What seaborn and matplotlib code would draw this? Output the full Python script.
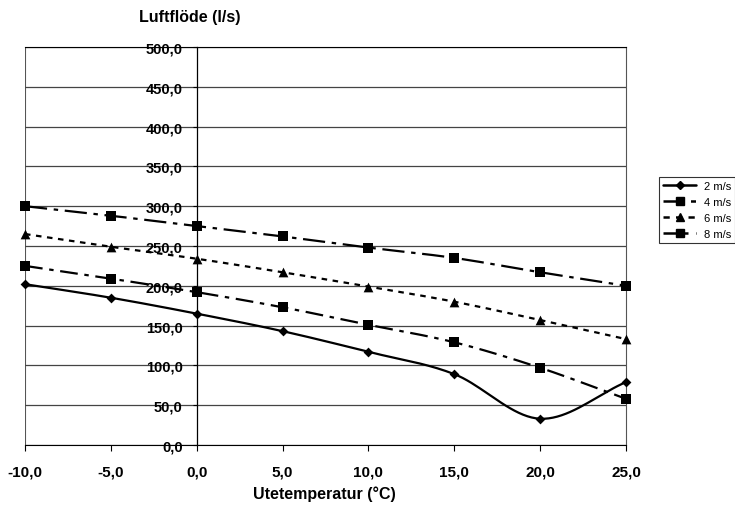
import numpy as np
import pandas as pd
import matplotlib
matplotlib.use("Agg")
import matplotlib.pyplot as plt
from matplotlib.lines import Line2D
from matplotlib.ticker import FuncFormatter
import seaborn as sns

# data
temps = [-10, -5, 0, 5, 10, 15, 20, 25]
flow_2 = [202, 185, 165, 143, 117, 89, 33, 79]
flow_4 = [225, 209, 192, 173, 151, 129, 97, 58]
flow_6 = [265, 249, 234, 217, 199, 180, 157, 133]
flow_8 = [300, 288, 275, 262, 248, 235, 217, 200]
series_names = ["2 m/s", "4 m/s", "6 m/s", "8 m/s"]
y_ticks = list(range(0, 501, 50))
x_ticks = list(range(-10, 26, 5))

styles = {
    "2 m/s": dict(marker="D", ms=5, dashes=(None, None)),
    "4 m/s": dict(marker="s", ms=7, dashes=(8, 3, 2, 3)),
    "6 m/s": dict(marker="^", ms=7, dashes=(2.5, 2.5)),
    "8 m/s": dict(marker="s", ms=7, dashes=(10, 3, 2, 3)),
}


def smooth(x, y, n=20):
    # Catmull-Rom spline similar to Excel's "smoothed line"
    x = np.asarray(x, float)
    y = np.asarray(y, float)
    px = np.concatenate([[2 * x[0] - x[1]], x, [2 * x[-1] - x[-2]]])
    py = np.concatenate([[2 * y[0] - y[1]], y, [2 * y[-1] - y[-2]]])
    xs, ys = [], []
    for i in range(1, len(px) - 2):
        t = np.linspace(0, 1, n, endpoint=False)
        for arr, out in ((px, xs), (py, ys)):
            p0, p1, p2, p3 = arr[i - 1], arr[i], arr[i + 1], arr[i + 2]
            out.extend(0.5 * (2 * p1 + (-p0 + p2) * t
                              + (2 * p0 - 5 * p1 + 4 * p2 - p3) * t ** 2
                              + (-p0 + 3 * p1 - 3 * p2 + p3) * t ** 3))
    xs.append(x[-1])
    ys.append(y[-1])
    return xs, ys


sns.set_style("white")
plt.rcParams["font.family"] = ["Liberation Sans", "DejaVu Sans"]
plt.rcParams["font.weight"] = "bold"
plt.rcParams["text.color"] = "black"
plt.rcParams["xtick.color"] = "black"
plt.rcParams["ytick.color"] = "black"
plt.rcParams["xtick.labelsize"] = 11
plt.rcParams["ytick.labelsize"] = 10.5

fig = plt.figure(figsize=(7.35, 5.06), dpi=100)
ax = fig.add_axes([0.034, 0.1186, 0.8177, 0.7866])

rows = []
for name, vals in zip(series_names, [flow_2, flow_4, flow_6, flow_8]):
    rows += [dict(temp=t, flow=v, serie=name) for t, v in zip(temps, vals)]
df = pd.DataFrame(rows)

handles = []
for name in series_names:
    d = df[df.serie == name]
    sx, sy = smooth(d.temp, d.flow)
    st = styles[name]
    line = ax.plot(sx, sy, color="black", lw=1.6)[0]
    if st["dashes"][0] is not None:
        line.set_dashes(st["dashes"])
    sns.scatterplot(x=d.temp, y=d.flow, marker=st["marker"], s=st["ms"] ** 2,
                    color="black", edgecolor="black", linewidth=0, ax=ax,
                    zorder=5, clip_on=False)
    h = Line2D([0], [0], color="black", lw=1.8, marker=st["marker"],
               markersize=st["ms"] - 1)
    if st["dashes"][0] is not None:
        h.set_dashes(st["dashes"])
    handles.append(h)

ax.spines["left"].set_position(("data", 0))
ax.spines["left"].set_color("black")
ax.spines["left"].set_linewidth(0.9)
ax.spines["right"].set_color("#555555")
ax.spines["top"].set_color("black")
ax.spines["bottom"].set_color("black")
ax.axvline(-10, color="#555555", lw=1.5, zorder=0)

ax.set_xlim(-10, 25)
ax.set_ylim(0, 500)
ax.set_xticks(x_ticks)
ax.set_yticks(y_ticks)
comma = FuncFormatter(lambda v, _: f"{v:.1f}".replace(".", ","))
ax.xaxis.set_major_formatter(comma)
ax.yaxis.set_major_formatter(comma)
ax.grid(axis="y", color="#444444", lw=0.9)
ax.set_axisbelow(True)
ax.tick_params(axis="y", direction="out", length=3, width=0.8, pad=7, left=True)
ax.tick_params(axis="x", direction="out", length=4, width=0.8, pad=10, bottom=True)

ax.set_xlabel("")
ax.set_ylabel("")
fig.text(0.258, 0.966, "Luftflöde (l/s)", ha="center", va="center",
         fontsize=11.5, fontweight="bold")
fig.text(0.442, 0.024, "Utetemperatur (°C)", ha="center", va="center",
         fontsize=11.5, fontweight="bold")

leg = fig.legend(handles, series_names, loc="upper left",
                 bbox_to_anchor=(0.8966, 0.648),
                 prop=dict(size=8, weight="normal"), frameon=True,
                 fancybox=False, edgecolor="black", handlelength=3.0,
                 handletextpad=0.7, labelspacing=0.55, borderpad=0.35,
                 borderaxespad=0)
leg.get_frame().set_linewidth(0.8)

fig.savefig("out.png", dpi=100)
